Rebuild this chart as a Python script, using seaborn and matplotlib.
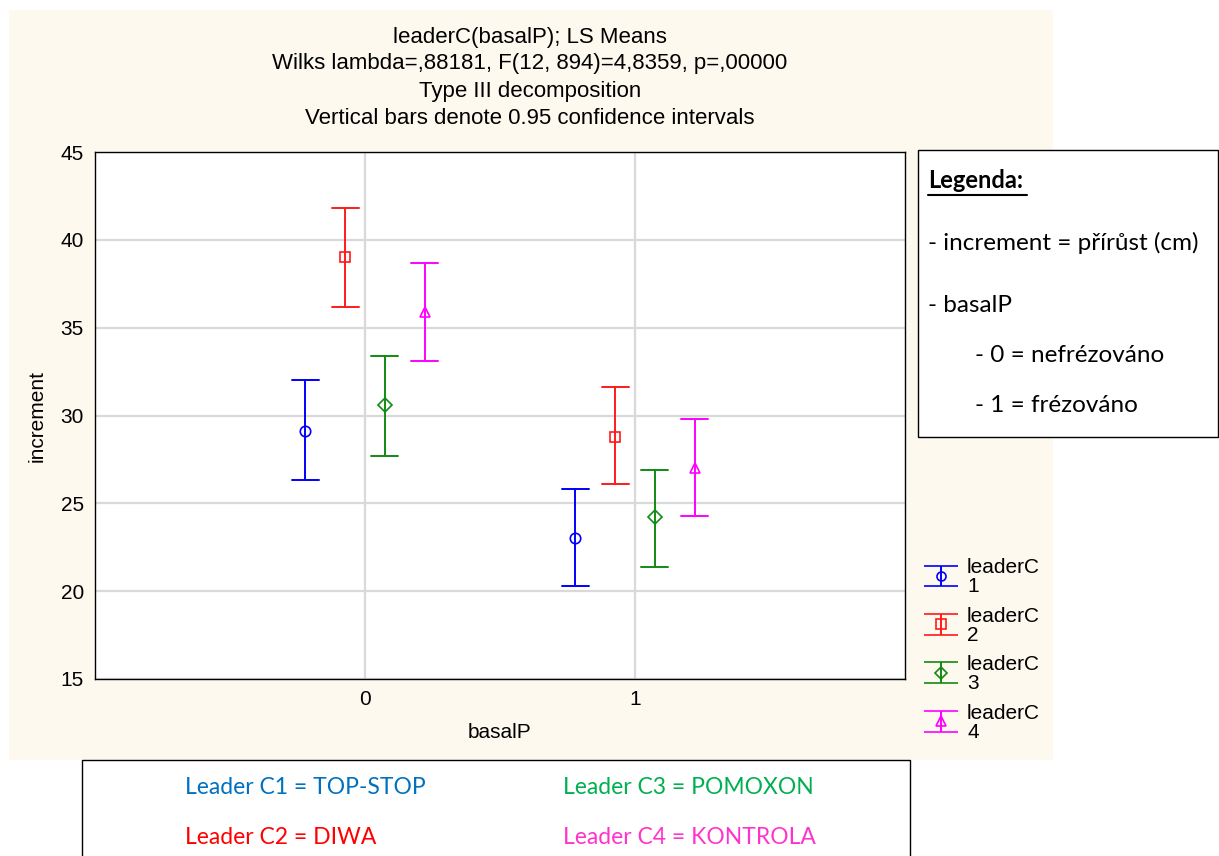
import numpy as np
import pandas as pd
import matplotlib
matplotlib.use("Agg")
import matplotlib.pyplot as plt
import seaborn as sns
from matplotlib.patches import Rectangle
from matplotlib.lines import Line2D

# ---- data ----
basal_levels = ["0", "1"]
leaders = ["1", "2", "3", "4"]
means_0 = [29.1, 39.0, 30.6, 35.9]
lower_0 = [26.3, 36.2, 27.7, 33.1]
upper_0 = [32.0, 41.8, 33.4, 38.7]
means_1 = [23.0, 28.8, 24.2, 27.0]
lower_1 = [20.3, 26.1, 21.4, 24.3]
upper_1 = [25.8, 31.6, 26.9, 29.8]
yticks = [15, 20, 25, 30, 35, 40, 45]
colors = ["#0000FF", "#FF1A1A", "#138A13", "#FF00FF"]
markers = ["o", "s", "D", "^"]
title_lines = ["leaderC(basalP); LS Means",
               "Wilks lambda=,88181, F(12, 894)=4,8359, p=,00000",
               "Type III decomposition",
               "Vertical bars denote 0.95 confidence intervals"]
legend_labels = ["leaderC\n1", "leaderC\n2", "leaderC\n3", "leaderC\n4"]
box_title = "Legenda:"
box_lines = ["- increment = přírůst (cm)", "- basalP", "- 0 = nefrézováno", "- 1 = frézováno"]
bottom_texts = ["Leader C1 = TOP-STOP", "Leader C2 = DIWA", "Leader C3 = POMOXON", "Leader C4 = KONTROLA"]
bottom_colors = ["#0070C0", "#FF0000", "#00B050", "#FF33CC"]

# long table: lower / mean / upper rows -> median = mean, 100% interval = CI
rows = []
for b, (m, lo, hi) in zip(basal_levels, [(means_0, lower_0, upper_0), (means_1, lower_1, upper_1)]):
    for i, L in enumerate(leaders):
        for v in (lo[i], m[i], hi[i]):
            rows.append({"basalP": b, "leaderC": L, "increment": v})
df = pd.DataFrame(rows)

sns.set_theme(style="white")
plt.rcParams["font.family"] = ["Liberation Sans", "DejaVu Sans"]
plt.rcParams["text.color"] = "black"
plt.rcParams["axes.labelcolor"] = "black"
plt.rcParams["xtick.color"] = "black"
plt.rcParams["ytick.color"] = "black"

W, H = 1219, 856
fig = plt.figure(figsize=(W / 100, H / 100), dpi=100)
fig.patch.set_facecolor("white")

def fx(px):
    return px / W

def fy(py):
    return 1 - py / H

# cream panel
fig.patches.append(Rectangle((fx(9), fy(760)), fx(1053) - fx(9), fy(10) - fy(760),
                             transform=fig.transFigure, facecolor="#FEF9EE",
                             edgecolor="none", zorder=-5))

ax = fig.add_axes([fx(95), fy(679), fx(905) - fx(95), fy(152) - fy(679)])
ax.set_facecolor("white")

sns.pointplot(data=df, x="basalP", y="increment", hue="leaderC",
              order=basal_levels, hue_order=leaders,
              estimator="median", errorbar=("pi", 100),
              palette=colors, markers=markers, linestyles="none",
              dodge=0.444, capsize=0.1, linewidth=1.4,
              markersize=7.5, markeredgewidth=1.2,
              markerfacecolor="none", legend=False, ax=ax)

for ln in ax.lines:
    ln.set_markerfacecolor("none")

ax.set_xlim(-1, 2)
ax.set_ylim(15, 45)
ax.set_yticks(yticks)
ax.set_xticks([0, 1])
ax.set_xticklabels(basal_levels)
ax.grid(True, color="#d9d9d9", linewidth=1.6)
ax.set_axisbelow(True)
for sp in ax.spines.values():
    sp.set_color("black")
    sp.set_linewidth(1.0)
ax.tick_params(length=0, labelsize=15, colors="black", pad=8)
ax.set_xlabel("basalP", fontsize=15, color="black", labelpad=10)
ax.set_ylabel("increment", fontsize=15, color="black", labelpad=10)

# titles
for yy, t in zip([37, 63, 91, 118], title_lines):
    fig.text(fx(530), fy(yy), t, ha="center", va="center", fontsize=16, color="black")

# legend with errorbar-like handles
handles = []
for c, m in zip(colors, markers):
    h = ax.errorbar([np.nan], [np.nan], yerr=[[1], [1]], color=c, marker=m,
                    markerfacecolor="none", markersize=6.5, markeredgewidth=1.2,
                    capsize=12, elinewidth=1.4, capthick=1.4, linestyle="none")
    handles.append(h)
leg = fig.legend(handles, legend_labels, loc="upper left",
                 bbox_to_anchor=(fx(914), fy(548)), frameon=False,
                 fontsize=15, handlelength=1.6, handleheight=1.2, handletextpad=0.45,
                 labelspacing=0.5, borderpad=0.0)
for t in leg.get_texts():
    t.set_linespacing(1.0)
    t.set_color("black")

# right text box
fig.patches.append(Rectangle((fx(918), fy(437)), fx(1218) - fx(918), fy(150) - fy(437),
                             transform=fig.transFigure, facecolor="white",
                             edgecolor="black", linewidth=1.0, zorder=1))
bf = ["Lato", "DejaVu Sans"]
fig.text(fx(928), fy(181), box_title, ha="left", va="center", fontsize=17,
         fontweight="bold", family=bf, color="black", zorder=3)
fig.lines.append(Line2D([fx(928), fx(1027)], [fy(195), fy(195)], transform=fig.transFigure,
                        color="black", linewidth=1.5, zorder=3))
for (xx, yy), t in zip([(928, 243), (928, 306), (975, 356), (975, 405)], box_lines):
    fig.text(fx(xx), fy(yy), t, ha="left", va="center", fontsize=17.5, family=bf,
             color="black", zorder=3)

# bottom text box
fig.patches.append(Rectangle((fx(82), fy(900)), fx(910) - fx(82), fy(760) - fy(900),
                             transform=fig.transFigure, facecolor="white",
                             edgecolor="black", linewidth=1.0, zorder=1))
for (xx, yy), t, c in zip([(185, 788), (185, 837), (563, 788), (563, 837)], bottom_texts, bottom_colors):
    fig.text(fx(xx), fy(yy), t, ha="left", va="center", fontsize=16.5, family=bf, color=c, zorder=3)

fig.savefig("out.png", dpi=100)
